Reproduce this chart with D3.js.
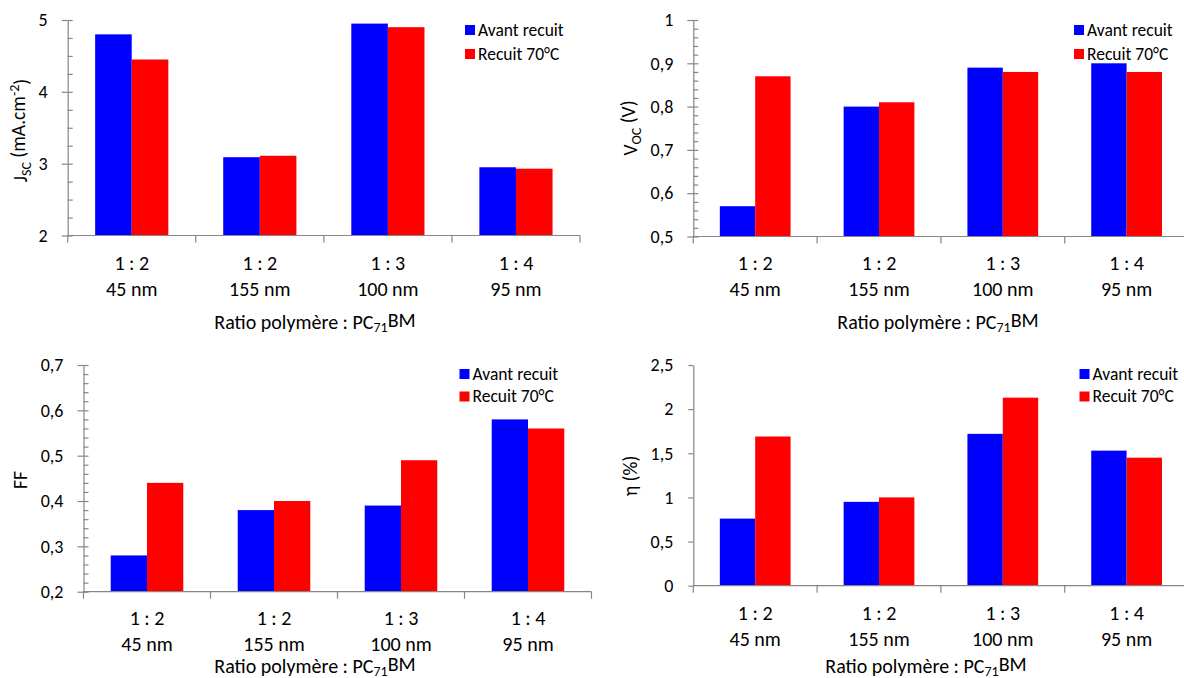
<!DOCTYPE html>
<html>
<head>
<meta charset="utf-8">
<script src="https://cdn.jsdelivr.net/npm/d3@7"></script>
<style>
  html, body { margin: 0; padding: 0; background: #fff; }
  svg { display: block; font-family: Carlito, Calibri, Lato, "Open Sans", sans-serif; }
</style>
</head>
<body>
<svg id="chart" width="1184" height="678"></svg>
<script>
// ---------- data ----------
const catLine1 = ["1 : 2", "1 : 2", "1 : 3", "1 : 4"];
const catLine2 = ["45 nm", "155 nm", "100 nm", "95 nm"];
const seriesNames = ["Avant recuit", "Recuit 70°C"];
const seriesColors = ["#0000FF", "#FF0000"];

const jscAvant = [4.80, 3.09, 4.95, 2.95];
const jscRecuit = [4.45, 3.11, 4.90, 2.93];
const vocAvant = [0.57, 0.80, 0.89, 0.90];
const vocRecuit = [0.87, 0.81, 0.88, 0.88];
const ffAvant = [0.28, 0.38, 0.39, 0.58];
const ffRecuit = [0.44, 0.40, 0.49, 0.56];
const etaAvant = [0.76, 0.95, 1.72, 1.53];
const etaRecuit = [1.69, 1.00, 2.13, 1.45];

const jscTicks = [2, 3, 4, 5];
const vocTicks = [0.5, 0.6, 0.7, 0.8, 0.9, 1];
const ffTicks = [0.2, 0.3, 0.4, 0.5, 0.6, 0.7];
const etaTicks = [0, 0.5, 1, 1.5, 2, 2.5];

// ---------- helpers ----------
const fr = d3.formatLocale({decimal: ",", thousands: " ", grouping: [3], currency: ["", " €"]});
const fmt = v => fr.format("~g")(v);
const svg = d3.select("#chart");
const AX = "#868686";

function panel(cfg) {
  const g = svg.append("g");
  const cats = d3.range(catLine1.length);
  const x = d3.scaleBand().domain(cats).range([cfg.x0, cfg.x1]).paddingInner(0).paddingOuter(0);
  const xs = d3.scaleBand().domain([0, 1]).range([0, x.bandwidth()]).paddingInner(0).paddingOuter(0.75);
  const y = d3.scaleLinear().domain(cfg.domain).range([cfg.yBot, cfg.yTop]);

  // bars
  const series = [cfg.a, cfg.b];
  series.forEach((vals, si) => {
    g.selectAll(null).data(vals).enter().append("rect")
      .attr("x", (d, i) => x(i) + xs(si))
      .attr("y", d => y(d))
      .attr("width", xs.bandwidth())
      .attr("height", d => y(cfg.domain[0]) - y(d))
      .attr("fill", seriesColors[si]);
  });

  // y axis
  const ya = d3.axisLeft(y).tickValues(cfg.ticks).tickSizeInner(cfg.outTick).tickSizeOuter(0)
    .tickPadding(cfg.pad).tickFormat(fmt);
  const yg = g.append("g").attr("transform", `translate(${cfg.x0},0)`).call(ya);
  yg.select(".domain").attr("stroke", AX).attr("stroke-width", 1.2);
  yg.selectAll(".tick line").attr("stroke", AX).attr("stroke-width", 1.2);
  yg.selectAll(".tick text").attr("fill", "#000").style("font-size", "18px")
    .style("font-family", "Carlito, Calibri, Lato, sans-serif");

  if (cfg.inTicks) {
    const mins = d3.range(cfg.domain[0], cfg.domain[1] + cfg.minor / 2, cfg.minor);
    const yi = d3.axisRight(y).tickValues(mins).tickSize(5).tickSizeOuter(0).tickFormat("");
    const yig = g.append("g").attr("transform", `translate(${cfg.x0},0)`).call(yi);
    yig.select(".domain").remove();
    yig.selectAll(".tick line").attr("stroke", AX).attr("stroke-width", 1.2);
  }

  // x axis
  const yb = y(cfg.domain[0]);
  g.append("line").attr("x1", cfg.x0).attr("x2", cfg.x1).attr("y1", yb).attr("y2", yb)
    .attr("stroke", AX).attr("stroke-width", 1.2);
  const bounds = cats.map(i => x(i)).concat([x(cats.length - 1) + x.bandwidth()]);
  g.selectAll(null).data(bounds).enter().append("line")
    .attr("x1", d => d).attr("x2", d => d).attr("y1", yb).attr("y2", yb + 7)
    .attr("stroke", AX).attr("stroke-width", 1.2);

  // category labels
  g.selectAll(null).data(cats).enter().append("text")
    .attr("x", i => x(i) + x.bandwidth() / 2).attr("y", cfg.l1)
    .attr("text-anchor", "middle").style("font-size", "20px").text(i => catLine1[i]);
  g.selectAll(null).data(cats).enter().append("text")
    .attr("x", i => x(i) + x.bandwidth() / 2).attr("y", cfg.l2)
    .attr("text-anchor", "middle").style("font-size", "20px").text(i => catLine2[i]);

  // x title
  const xt = g.append("text").attr("x", cfg.tx).attr("y", cfg.ty).attr("text-anchor", "middle")
    .style("font-size", "20px");
  xt.append("tspan").text("Ratio polymère : PC");
  xt.append("tspan").attr("dy", "0.25em").style("font-size", "14px").text("71");
  xt.append("tspan").attr("dy", "-0.25em").text("BM");

  // y title
  const yt = g.append("text").attr("transform", `translate(${cfg.yx},${cfg.yy}) rotate(-90)`)
    .attr("text-anchor", "middle").style("font-size", "19.5px");
  cfg.ytitle.forEach(p => {
    const t = yt.append("tspan").text(p.t);
    if (p.sub) t.attr("dy", "0.3em").style("font-size", "14px");
    if (p.sup) t.attr("dy", "-0.45em").style("font-size", "14px");
    if (p.back) t.attr("dy", p.back);
  });

  // legend
  seriesNames.forEach((n, si) => {
    const cy = cfg.legY[si];
    g.append("rect").attr("x", cfg.legX).attr("y", cy - 5).attr("width", 10).attr("height", 10)
      .attr("fill", seriesColors[si]);
    g.append("text").attr("x", cfg.legX + 13).attr("y", cy + 5.5).style("font-size", "17.5px").text(n);
  });
}

panel({a: jscAvant, b: jscRecuit, ticks: jscTicks, domain: [2, 5], minor: 0.25, inTicks: true, outTick: 6, pad: 14,
  x0: 67.7, x1: 580, yTop: 20, yBot: 235.5, l1: 269.5, l2: 295.5, tx: 315, ty: 328.5,
  yx: 27, yy: 130.5, ytitle: [{t: "J"}, {t: "SC", sub: true}, {t: " (mA.cm", back: "-0.3em"}, {t: "-2", sup: true}, {t: ")", back: "0.45em"}],
  legX: 465, legY: [30, 54]});

panel({a: vocAvant, b: vocRecuit, ticks: vocTicks, domain: [0.5, 1], minor: 0.02, inTicks: true, outTick: 6, pad: 14,
  x0: 693.3, x1: 1188.5, yTop: 20, yBot: 236.5, l1: 270, l2: 296, tx: 938, ty: 328.5,
  yx: 637, yy: 128, ytitle: [{t: "V"}, {t: "OC", sub: true}, {t: " (V)", back: "-0.3em"}],
  legX: 1074, legY: [30, 54]});

panel({a: ffAvant, b: ffRecuit, ticks: ffTicks, domain: [0.2, 0.7], minor: 0.02, inTicks: true, outTick: 6, pad: 14,
  x0: 83.5, x1: 591.5, yTop: 365, yBot: 591.7, l1: 624.5, l2: 650.5, tx: 315, ty: 672.5,
  yx: 27, yy: 480, ytitle: [{t: "FF"}],
  legX: 459.5, legY: [374, 396.5]});

panel({a: etaAvant, b: etaRecuit, ticks: etaTicks, domain: [0, 2.5], minor: 0.5, inTicks: false, outTick: 5, pad: 15,
  x0: 693.3, x1: 1188.5, yTop: 365, yBot: 585.7, l1: 619.5, l2: 645.5, tx: 926, ty: 672.5,
  yx: 637, yy: 476, ytitle: [{t: "η (%)"}],
  legX: 1079.5, legY: [374, 396.5]});
</script>
</body>
</html>
